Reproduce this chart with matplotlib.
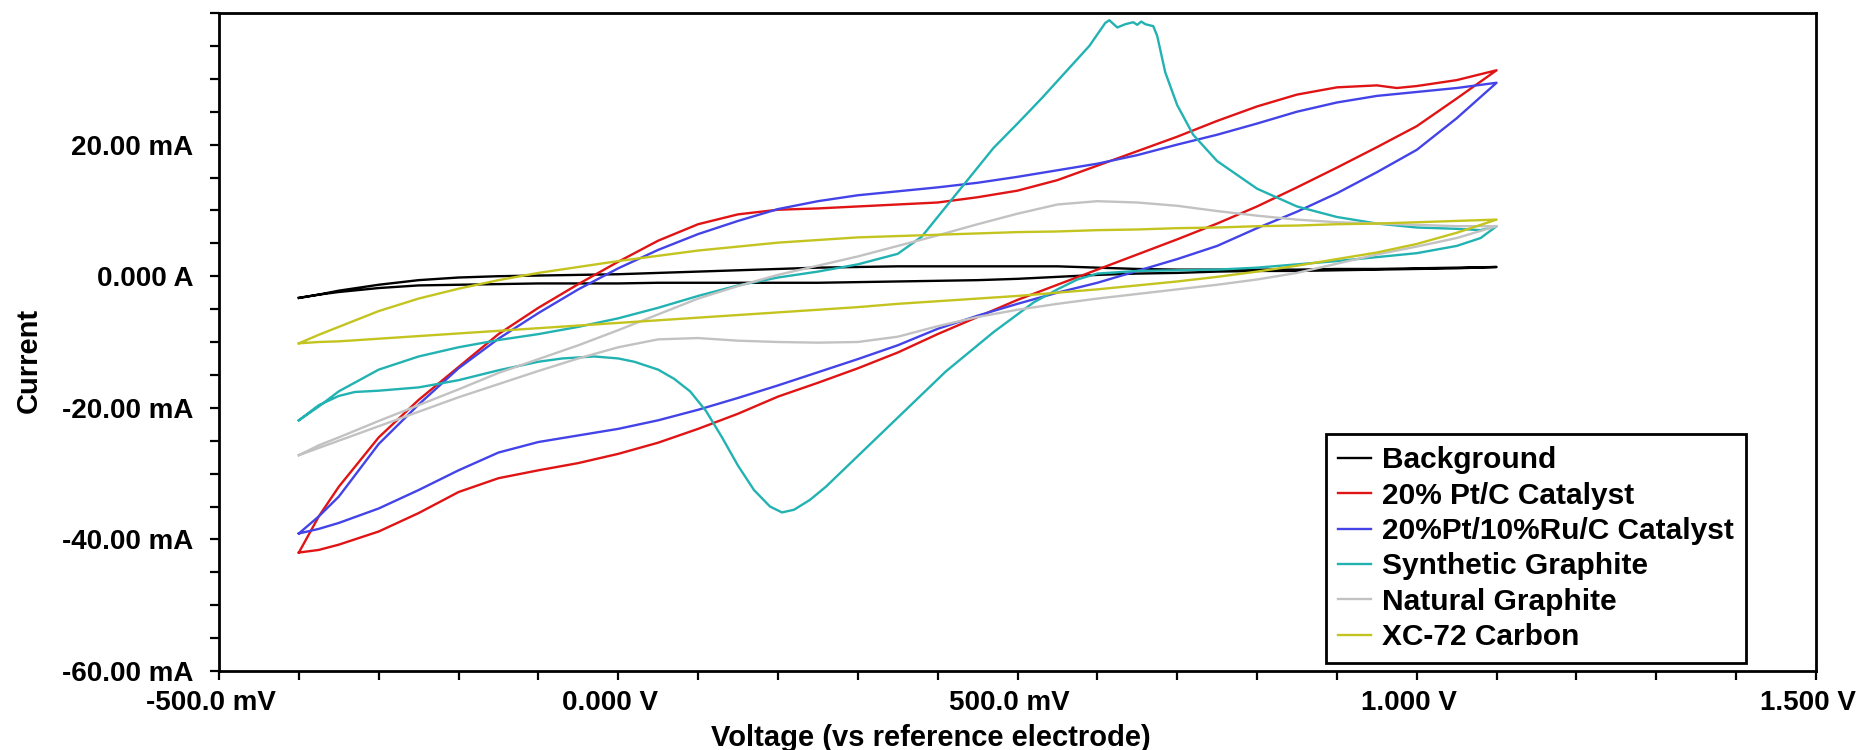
import numpy as np
import matplotlib
matplotlib.use("Agg")
import matplotlib.pyplot as plt
import matplotlib.transforms as mtransforms
from matplotlib.ticker import MultipleLocator

plt.rcParams['font.family'] = ['Liberation Sans', 'DejaVu Sans']
plt.rcParams['font.weight'] = 'bold'

# ---------------- data (V in volts, current in mA) ----------------
grid_up = [-0.40, -0.375, -0.35, -0.30, -0.25, -0.20, -0.15, -0.10, -0.05, 0.00,
           0.05, 0.10, 0.15, 0.20, 0.25, 0.30, 0.35, 0.40, 0.45, 0.50,
           0.55, 0.60, 0.65, 0.70, 0.75, 0.80, 0.85, 0.90, 0.95, 1.00, 1.05, 1.10]
grid_down = grid_up[::-1]

# Background
bg_fwd_i = [-3.3, -2.8, -2.2, -1.3, -0.6, -0.2, 0.0, 0.1, 0.2, 0.3,
            0.5, 0.7, 0.9, 1.1, 1.3, 1.4, 1.5, 1.5, 1.5, 1.5,
            1.5, 1.3, 1.1, 1.0, 1.0, 1.0, 1.0, 1.1, 1.1, 1.2, 1.3, 1.4]
bg_rev_i = [1.4, 1.2, 1.1, 1.0, 0.9, 0.8, 0.8, 0.7, 0.5, 0.4,
            0.2, -0.1, -0.4, -0.6, -0.7, -0.8, -0.9, -1.0, -1.0, -1.0,
            -1.0, -1.0, -1.1, -1.1, -1.1, -1.2, -1.3, -1.4, -1.8, -2.4, -2.8, -3.3]

# 20% Pt/C Catalyst
pt_fwd_v = [-0.40, -0.375, -0.35, -0.30, -0.25, -0.20, -0.15, -0.10, -0.05, 0.00,
            0.05, 0.10, 0.15, 0.20, 0.25, 0.30, 0.35, 0.40, 0.45, 0.50,
            0.55, 0.60, 0.65, 0.70, 0.75, 0.80, 0.85, 0.90, 0.95, 0.975, 1.00, 1.05, 1.10]
pt_fwd_i = [-42.0, -36.5, -32.0, -24.5, -18.8, -13.8, -8.8, -4.8, -1.2, 2.2,
            5.4, 7.9, 9.4, 10.1, 10.3, 10.6, 10.9, 11.2, 12.0, 13.0,
            14.6, 16.8, 19.0, 21.2, 23.6, 25.8, 27.6, 28.7, 29.0, 28.6, 28.9, 29.8, 31.3]
pt_rev_i = [31.3, 27.0, 22.8, 19.6, 16.5, 13.5, 10.6, 8.0, 5.6, 3.3,
            1.0, -1.3, -3.6, -6.2, -8.8, -11.6, -14.0, -16.2, -18.3, -20.9,
            -23.2, -25.3, -27.0, -28.4, -29.5, -30.7, -32.8, -36.0, -38.8, -40.8, -41.6, -42.0]

# 20%Pt/10%Ru/C Catalyst
ru_fwd_i = [-39.1, -36.5, -33.5, -25.5, -19.5, -14.0, -9.5, -5.6, -2.0, 1.2,
            4.0, 6.4, 8.4, 10.2, 11.4, 12.3, 12.9, 13.5, 14.2, 15.1,
            16.1, 17.1, 18.4, 20.0, 21.5, 23.2, 25.0, 26.4, 27.4, 28.0, 28.6, 29.4]
ru_rev_i = [29.4, 24.0, 19.2, 15.8, 12.6, 9.8, 7.3, 4.6, 2.6, 0.8,
            -1.0, -2.5, -4.2, -6.0, -8.0, -10.5, -12.6, -14.6, -16.6, -18.5,
            -20.3, -21.9, -23.2, -24.2, -25.2, -26.8, -29.5, -32.5, -35.3, -37.5, -38.4, -39.1]

# Synthetic Graphite
sg_fwd_v = [-0.40, -0.375, -0.35, -0.30, -0.25, -0.20, -0.15, -0.10, -0.05, 0.00,
            0.05, 0.10, 0.15, 0.20, 0.25, 0.30, 0.35, 0.38, 0.41, 0.44,
            0.47, 0.50, 0.53, 0.56, 0.59, 0.61, 0.615, 0.625, 0.635, 0.645,
            0.65, 0.655, 0.66, 0.67, 0.675, 0.685, 0.70, 0.72, 0.75, 0.80,
            0.85, 0.90, 0.95, 1.00, 1.05, 1.08, 1.10]
sg_fwd_i = [-21.9, -19.8, -17.5, -14.2, -12.2, -10.8, -9.7, -8.8, -7.7, -6.4,
            -4.8, -3.0, -1.4, -0.2, 0.7, 1.8, 3.4, 6.0, 10.5, 15.0,
            19.5, 23.2, 27.0, 31.0, 35.0, 38.5, 38.9, 37.8, 38.3, 38.6,
            38.2, 38.7, 38.3, 38.0, 36.5, 31.0, 26.0, 21.5, 17.5, 13.3,
            10.6, 9.0, 8.0, 7.4, 7.2, 7.0, 7.6]
sg_rev_v = [1.10, 1.08, 1.05, 1.00, 0.95, 0.90, 0.85, 0.80, 0.75, 0.70,
            0.65, 0.60, 0.575, 0.55, 0.52, 0.50, 0.47, 0.44, 0.41, 0.38,
            0.35, 0.32, 0.29, 0.26, 0.24, 0.22, 0.205, 0.19, 0.17, 0.15,
            0.13, 0.11, 0.09, 0.07, 0.05, 0.02, 0.00, -0.03, -0.07, -0.10,
            -0.15, -0.20, -0.25, -0.30, -0.33, -0.35, -0.375, -0.40]
sg_rev_i = [7.6, 5.8, 4.6, 3.5, 2.9, 2.3, 1.8, 1.3, 1.0, 0.9,
            0.8, 0.4, -0.5, -2.0, -4.0, -5.8, -8.5, -11.5, -14.5, -18.0,
            -21.5, -25.0, -28.5, -32.0, -34.0, -35.5, -35.9, -35.0, -32.5, -28.8,
            -24.5, -20.5, -17.5, -15.6, -14.2, -13.0, -12.5, -12.2, -12.5, -13.0,
            -14.3, -15.8, -16.9, -17.4, -17.6, -18.2, -19.6, -21.9]

# Natural Graphite
ng_fwd_i = [-27.2, -25.7, -24.5, -22.0, -19.6, -17.2, -14.7, -12.6, -10.5, -8.2,
            -5.8, -3.4, -1.5, 0.2, 1.6, 3.0, 4.6, 6.2, 7.9, 9.5,
            10.9, 11.4, 11.2, 10.7, 9.9, 9.2, 8.6, 8.2, 8.0, 7.8, 7.6, 7.6]
ng_rev_i = [7.6, 5.8, 4.5, 3.3, 1.9, 0.5, -0.5, -1.3, -2.0, -2.7,
            -3.4, -4.2, -5.1, -6.2, -7.6, -9.2, -10.0, -10.1, -10.0, -9.8,
            -9.4, -9.6, -10.8, -12.5, -14.4, -16.4, -18.4, -20.6, -22.8, -25.0, -26.1, -27.2]

# XC-72 Carbon
xc_fwd_i = [-10.2, -8.9, -7.7, -5.3, -3.4, -1.9, -0.6, 0.5, 1.4, 2.3,
            3.1, 3.9, 4.5, 5.1, 5.5, 5.9, 6.1, 6.3, 6.5, 6.7,
            6.8, 7.0, 7.1, 7.3, 7.4, 7.6, 7.7, 7.9, 8.0, 8.2, 8.4, 8.6]
xc_rev_i = [8.6, 6.6, 4.9, 3.6, 2.6, 1.6, 0.7, -0.1, -0.8, -1.4,
            -2.0, -2.5, -3.0, -3.4, -3.8, -4.2, -4.7, -5.1, -5.5, -5.9,
            -6.3, -6.7, -7.1, -7.5, -7.9, -8.3, -8.7, -9.1, -9.5, -9.9, -10.0, -10.2]

labels = ["Background", "20% Pt/C Catalyst", "20%Pt/10%Ru/C Catalyst",
          "Synthetic Graphite", "Natural Graphite", "XC-72 Carbon"]
colors = ["#000000", "#e01414", "#4343e8", "#22b2b2", "#c2c2c2", "#c4c420"]

x_major = [-0.5, 0.0, 0.5, 1.0, 1.5]
x_labels = ["-500.0 mV", "0.000 V", "500.0 mV", "1.000 V", "1.500 V"]
y_major = [-60, -40, -20, 0, 20]
y_labels = ["-60.00 mA", "-40.00 mA", "-20.00 mA", "0.000 A", "20.00 mA"]

series = [
    (grid_up, bg_fwd_i, grid_down, bg_rev_i),
    (pt_fwd_v, pt_fwd_i, grid_down, pt_rev_i),
    (grid_up, ru_fwd_i, grid_down, ru_rev_i),
    (sg_fwd_v, sg_fwd_i, sg_rev_v, sg_rev_i),
    (grid_up, ng_fwd_i, grid_down, ng_rev_i),
    (grid_up, xc_fwd_i, grid_down, xc_rev_i),
]

# ---------------- figure ----------------
fig = plt.figure(figsize=(18.6, 7.5), dpi=100)
ax = fig.add_axes([219 / 1860, 1 - 671 / 750, (1816 - 219) / 1860, (671 - 13) / 750])

for (fv, fi, rv, ri), lab, col in zip(series, labels, colors):
    ax.plot(np.concatenate([fv, rv]), np.concatenate([fi, ri]),
            color=col, lw=1.7, label=lab, solid_joinstyle='round')

ax.set_xlim(-0.5, 1.5)
ax.set_ylim(-60, 40)
ax.set_xticks(x_major, x_labels)
ax.set_yticks(y_major, y_labels)
ax.xaxis.set_minor_locator(MultipleLocator(0.1))
ax.yaxis.set_minor_locator(MultipleLocator(5))
ax.tick_params(which='both', direction='out', length=6.5, width=1.6, color='black')
ax.tick_params(axis='x', which='major', pad=7, labelsize=20)
ax.tick_params(axis='y', which='major', pad=12, labelsize=20)
shift = mtransforms.ScaledTranslation(-8 / 100, 0, fig.dpi_scale_trans)
for lbl in ax.get_xticklabels():
    lbl.set_fontweight('bold')
    lbl.set_transform(lbl.get_transform() + shift)
for lbl in ax.get_yticklabels():
    lbl.set_fontweight('bold')
for s in ax.spines.values():
    s.set_linewidth(2.0)

ax.set_xlabel('Voltage (vs reference electrode)', fontsize=21, fontweight='bold')
ax.xaxis.set_label_coords(0.446, -0.114)
ax.xaxis.label.set_va('baseline')
ax.set_ylabel('Current', fontsize=21, fontweight='bold')
ax.yaxis.set_label_coords(-0.114, 0.472)
ax.yaxis.label.set_va('baseline')

leg = ax.legend(loc='upper left', bbox_to_anchor=(0.693, 0.360), borderaxespad=0,
                prop={'weight': 'bold', 'size': 21.5}, frameon=True, fancybox=False,
                edgecolor='black', framealpha=1, handlelength=1.1, handletextpad=0.4,
                labelspacing=0.25, borderpad=0.4)
leg.get_frame().set_linewidth(2.0)

fig.savefig('out.png', dpi=100)
